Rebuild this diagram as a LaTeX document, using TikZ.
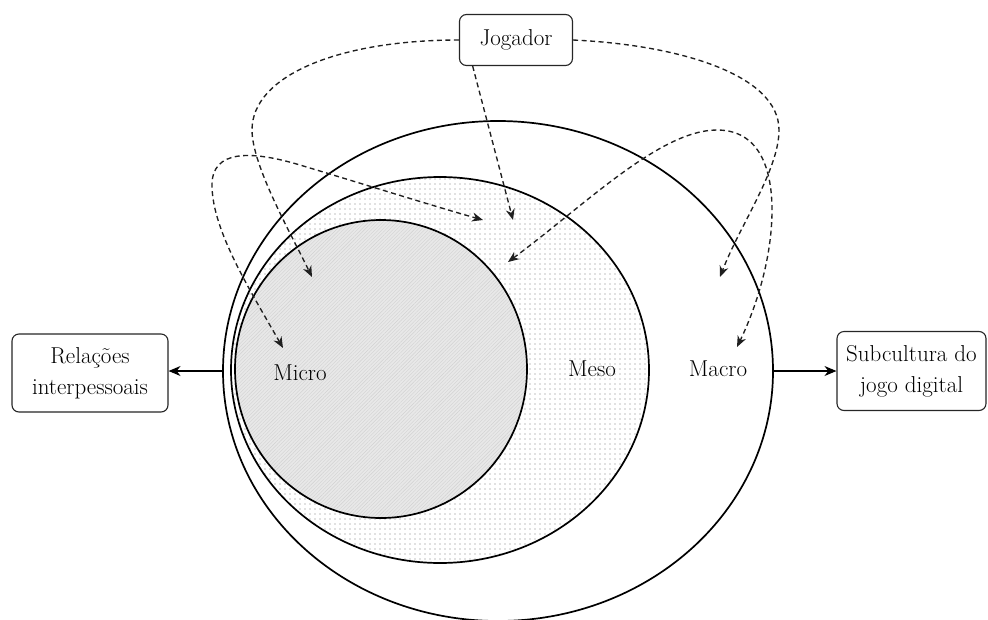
\documentclass[tikz,border=0pt]{standalone}
\usetikzlibrary{shapes.geometric,arrows.meta,patterns.meta,calc}
\begin{document}
\begin{tikzpicture}[x=1pt,y=-1pt]
\tikzset{
 ring/.style={ellipse, draw=black, line width=1.7pt, inner sep=0pt},
 lbl/.style={font=\fontsize{23}{30}\selectfont, text=black},
 box/.style={draw=black!85, rounded corners=7pt, line width=1.1pt, align=center, font=\fontsize{23}{31}\selectfont, text=black, inner sep=0pt, fill=white},
 dsh/.style={draw=black!88, line width=1.35pt, dash pattern=on 5pt off 3.5pt, -{Stealth[length=11pt,width=9pt]}},
 dsh2/.style={draw=black!88, line width=1.35pt, dash pattern=on 5pt off 3.5pt, {Stealth[length=11pt,width=9pt]}-{Stealth[length=11pt,width=9pt]}},
 sol/.style={line width=1.1pt, -{Stealth[length=12pt,width=10pt]}},
}
\useasboundingbox (0,0) rectangle (988,619);
% circles
\node[ring, fill=white, minimum width=550pt, minimum height=500pt] (macro) at (498,371) {};
\node[ring, preaction={fill=white}, pattern={Dots[distance=5pt,radius=0.6pt]}, pattern color=black!50, minimum width=418pt, minimum height=386pt] (meso) at (440,370) {};
\node[ring, preaction={fill=black!9}, pattern={Lines[angle=45,distance=2.5pt,line width=0.4pt]}, pattern color=black!18, minimum width=292pt, minimum height=298pt] (micro) at (381,369) {};
% labels
\node[lbl] (tmicro) at (300,373) {Micro};
\node[lbl] (tmeso) at (592,369) {Meso};
\node[lbl] (tmacro) at (718,369) {Macro};
% boxes
\node[box, minimum width=113pt, minimum height=51pt] (jog) at (516,40) {Jogador};
\node[box, minimum width=156pt, minimum height=78pt] (rel) at (90,373) {Relações\\interpessoais};
\node[box, minimum width=149pt, minimum height=79pt] (sub) at (911.5,371) {Subcultura do\\jogo digital};
% solid arrows
\draw[sol] (macro.west) -- (macro.west -| rel.east);
\draw[sol] (macro.east) -- (macro.east -| sub.west);
% arrow targets
\coordinate (tA) at (312,277);
\coordinate (tB) at (283,348);
\coordinate (tC) at (483,220);
\coordinate (tD) at (513,220);
\coordinate (tE) at (720,277);
\coordinate (tF) at (508,262);
\coordinate (tG) at (737,347);
% dashed connectors
\draw[dsh] (jog.west) .. controls (340,40) and (252,75) .. (252,130) .. controls (252,165) and (290,232) .. (tA);
\draw[dsh2] (tB) .. controls (250,290) and (212,230) .. (212,185) .. controls (212,150) and (250,150) .. (300,165) .. controls (360,183) and (440,208) .. (tC);
\draw[dsh] (jog.211) -- (tD);
\draw[dsh] (jog.east) .. controls (680,45) and (779,75) .. (779,130) .. controls (779,170) and (740,225) .. (tE);
\draw[dsh2] (tF) .. controls (585,205) and (660,130) .. (717,130) .. controls (760,130) and (772,170) .. (772,210) .. controls (772,260) and (755,310) .. (tG);
\end{tikzpicture}
\end{document}
